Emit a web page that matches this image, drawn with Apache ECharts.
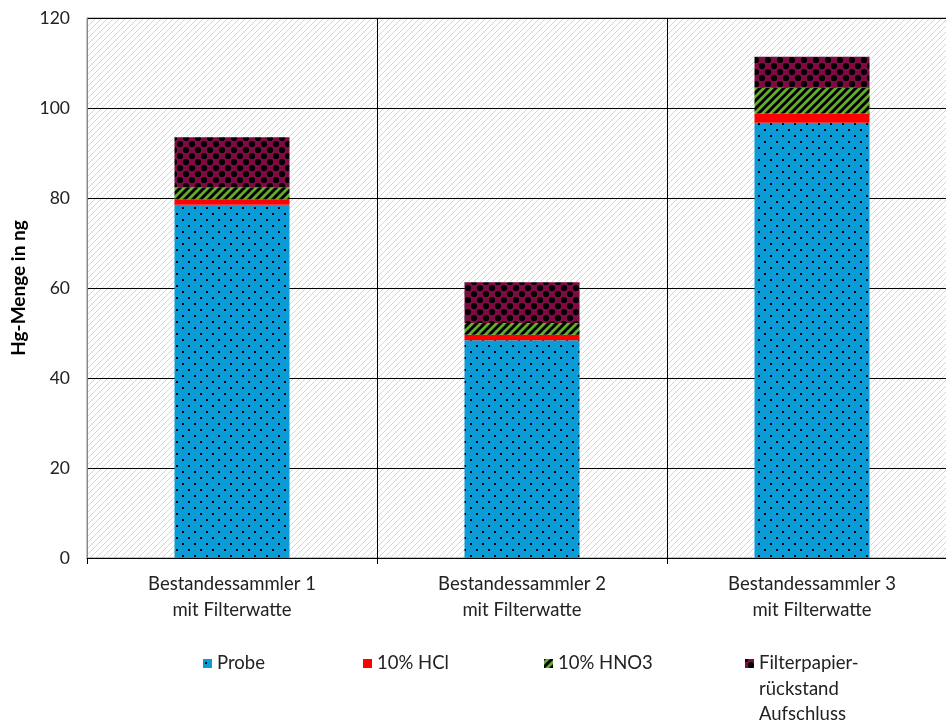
<!DOCTYPE html>
<html>
<head>
<meta charset="utf-8">
<script src="https://cdn.jsdelivr.net/npm/echarts@6/dist/echarts.min.js"></script>
<style>
  html, body { margin: 0; padding: 0; background: #fff; }
  #chart { width: 946px; height: 723px; }
</style>
</head>
<body>
<div id="chart"></div>
<script>
// Hg amounts (ng) per sampler, split by fraction
const categories = ['Bestandessammler 1\nmit Filterwatte', 'Bestandessammler 2\nmit Filterwatte', 'Bestandessammler 3\nmit Filterwatte'];
const seriesNames = ['Probe', '10% HCl', '10% HNO3', 'Filterpapier-rückstand Aufschluss'];
const probe = [78.5, 48.4, 96.7];
const hcl = [1.2, 1.2, 2.1];
const hno3 = [2.7, 2.6, 5.7];
const filterpapier = [11.1, 9.1, 6.9];
const yTicks = { min: 0, max: 120, interval: 20 };

function makePattern(w, h, draw) {
  const c = document.createElement('canvas');
  c.width = w; c.height = h;
  const ctx = c.getContext('2d');
  draw(ctx, w, h);
  return { image: c, repeat: 'repeat' };
}

// light diagonal hatch for the plot background
const hatch = makePattern(6, 6, (ctx, w, h) => {
  ctx.fillStyle = '#ffffff';
  ctx.fillRect(0, 0, w, h);
  ctx.strokeStyle = '#d4d4d4';
  ctx.lineWidth = 1;
  ctx.beginPath();
  ctx.moveTo(-1, h + 1); ctx.lineTo(w + 1, -1);
  ctx.moveTo(-1 - w, h + 1); ctx.lineTo(1, -1);
  ctx.moveTo(w - 1, h + 1); ctx.lineTo(2 * w + 1, -1);
  ctx.stroke();
});

// blue with sparse black dots
const dotted = makePattern(12, 12, (ctx, w, h) => {
  ctx.fillStyle = '#0b9bd7';
  ctx.fillRect(0, 0, w, h);
  ctx.fillStyle = '#000000';
  ctx.fillRect(2, 3, 2, 2);
  ctx.fillRect(8, 9, 2, 2);
});

// green with wide black diagonal stripes
const striped = makePattern(8, 8, (ctx, w, h) => {
  ctx.fillStyle = '#66ad2f';
  ctx.fillRect(0, 0, w, h);
  ctx.strokeStyle = '#000000';
  ctx.lineWidth = 3;
  ctx.beginPath();
  ctx.moveTo(-2, h + 2); ctx.lineTo(w + 2, -2);
  ctx.moveTo(-2 - w, h + 2); ctx.lineTo(2, -2);
  ctx.moveTo(w - 2, h + 2); ctx.lineTo(2 * w + 2, -2);
  ctx.stroke();
});

// maroon circles on a black lattice
const lattice = makePattern(12, 12, (ctx, w, h) => {
  ctx.fillStyle = '#800a44';
  ctx.fillRect(0, 0, w, h);
  ctx.fillStyle = '#000000';
  const pts = [[0, 0], [w, 0], [0, h], [w, h], [w / 2, h / 2]];
  pts.forEach(p => {
    ctx.beginPath();
    ctx.arc(p[0], p[1], 3.1, 0, Math.PI * 2);
    ctx.fill();
  });
});

const fills = [dotted, '#ff0000', striped, lattice];
const values = [probe, hcl, hno3, filterpapier];

const chart = echarts.init(document.getElementById('chart'));

const FONT = 'Lato, "Open Sans", sans-serif';
const legendFont = { fontFamily: FONT, fontSize: 18.5, color: '#222' };
const legendBase = {
  orient: 'horizontal', icon: 'rect', itemWidth: 9, itemHeight: 9, itemGap: 8,
  textStyle: legendFont, selectedMode: false, padding: 0
};

chart.setOption({
  animation: false,
  grid: {
    left: 87, top: 18, width: 870, height: 540,
    outerBoundsMode: 'none',
    show: true, backgroundColor: hatch, borderColor: '#888888', borderWidth: 1
  },
  legend: [
    Object.assign({}, legendBase, { data: [seriesNames[0]], left: 203, top: 654 }),
    Object.assign({}, legendBase, { data: [seriesNames[1]], left: 363, top: 654 }),
    Object.assign({}, legendBase, { data: [seriesNames[2]], left: 544, top: 654 }),
    Object.assign({}, legendBase, {
      data: [seriesNames[3]], left: 745, top: 654,
      formatter: () => 'Filterpapier-'
    })
  ],
  graphic: [{
    type: 'text',
    left: 759, top: 677,
    style: {
      text: 'rückstand\nAufschluss',
      font: '18.5px ' + FONT,
      lineHeight: 25,
      fill: '#222'
    }
  }],
  xAxis: {
    type: 'category',
    data: categories,
    boundaryGap: true,
    axisLine: { show: true, lineStyle: { color: '#000', width: 1 } },
    axisTick: { show: true, length: 6, lineStyle: { color: '#000' } },
    splitLine: { show: true, interval: 0, lineStyle: { color: '#000', width: 1 } },
    axisLabel: {
      margin: 13, lineHeight: 26,
      fontFamily: FONT, fontSize: 18.5, color: '#222'
    }
  },
  yAxis: {
    type: 'value',
    min: yTicks.min, max: yTicks.max, interval: yTicks.interval,
    name: 'Hg-Menge in ng',
    nameLocation: 'middle',
    nameGap: 58,
    nameTextStyle: { fontFamily: FONT, fontSize: 19, fontWeight: 'bold', color: '#000' },
    axisLine: { show: true, lineStyle: { color: '#888888' } },
    axisTick: { show: false },
    splitLine: { show: true, lineStyle: { color: '#000', width: 1 } },
    axisLabel: {
      margin: 17,
      fontFamily: FONT, fontSize: 17.5, color: '#222'
    }
  },
  series: seriesNames.map((name, i) => ({
    name: name,
    type: 'bar',
    stack: 'hg',
    barWidth: 115,
    data: values[i],
    itemStyle: { color: fills[i] }
  }))
});
</script>
</body>
</html>
